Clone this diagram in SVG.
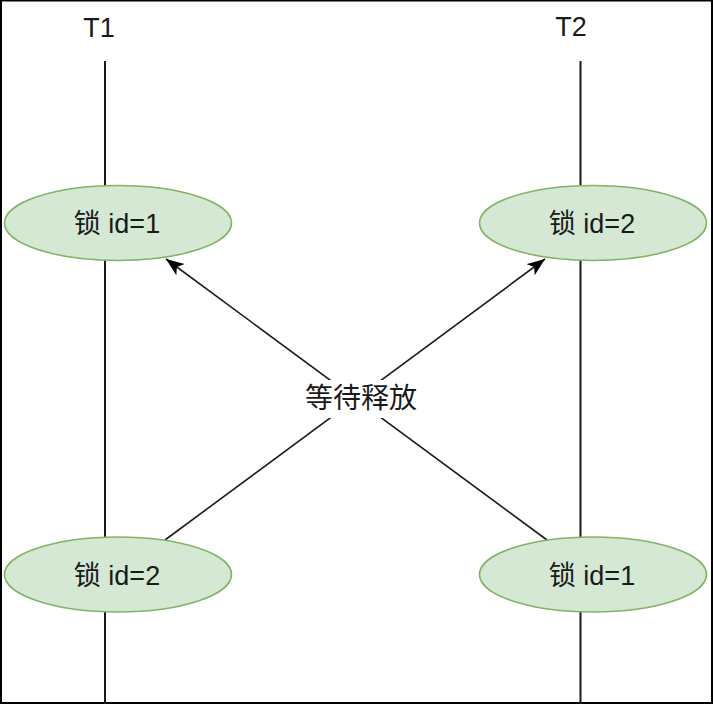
<svg xmlns="http://www.w3.org/2000/svg" width="713" height="704" viewBox="0 0 713 704">
  <style>
    .lifeline { stroke: #1a1a1a; stroke-width: 2; fill: none; }
    .edge { stroke: #1a1a1a; stroke-width: 1.6; fill: none; }
    .lock { fill: #d5e8d4; stroke: #82b366; stroke-width: 1.6; }
    .t { font-family: "Liberation Sans", "Noto Sans CJK SC", Arial, sans-serif; fill: #1a1a1a; text-anchor: middle; }
    .lbl { font-size: 27px; }
    .title { font-size: 27px; }
    .mid { font-size: 28px; }
  </style>
  <defs>
    <marker id="arrow" markerUnits="userSpaceOnUse" markerWidth="20" markerHeight="16" refX="18" refY="7" orient="auto">
      <path d="M0,0 L18,7 L0,14 L4.5,7 Z" fill="#000"/>
    </marker>
  </defs>
  <rect x="0" y="0" width="713" height="704" fill="#ffffff"/>
  <rect x="1" y="0.5" width="711" height="702.5" fill="none" stroke="#000" stroke-width="2"/>

  <g id="T1">
    <text class="t title" x="99" y="37">T1</text>
    <line class="lifeline" x1="105" y1="61" x2="105" y2="704"/>
  </g>
  <g id="T2">
    <text class="t title" x="571" y="36">T2</text>
    <line class="lifeline" x1="580.5" y1="61" x2="580.5" y2="704"/>
  </g>

  <g id="connectors">
    <line class="edge" x1="165" y1="540" x2="545" y2="259" marker-end="url(#arrow)"/>
    <line class="edge" x1="547" y1="540" x2="166" y2="259" marker-end="url(#arrow)"/>
    <rect x="300" y="380" width="122" height="38" fill="#ffffff"/>
    <text class="t mid" x="361" y="408">等待释放</text>
  </g>

  <g id="lock-t1-id1">
    <ellipse class="lock" cx="118" cy="223" rx="113.5" ry="37.5"/>
    <text class="t lbl" x="117" y="233">锁 id=1</text>
  </g>
  <g id="lock-t2-id2">
    <ellipse class="lock" cx="593" cy="223" rx="113.5" ry="37.5"/>
    <text class="t lbl" x="592" y="233">锁 id=2</text>
  </g>
  <g id="lock-t1-id2">
    <ellipse class="lock" cx="118" cy="574.5" rx="113.5" ry="37.5"/>
    <text class="t lbl" x="117" y="585">锁 id=2</text>
  </g>
  <g id="lock-t2-id1">
    <ellipse class="lock" cx="593" cy="574.5" rx="113.5" ry="37.5"/>
    <text class="t lbl" x="592" y="585">锁 id=1</text>
  </g>
</svg>
